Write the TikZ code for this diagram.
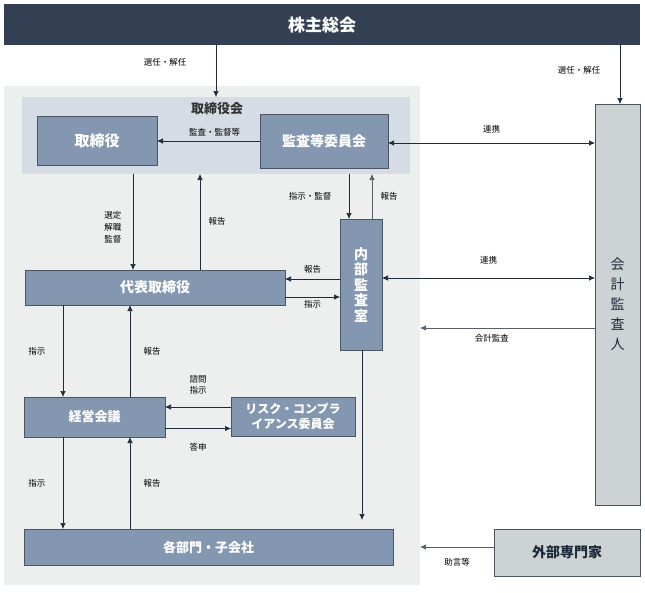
\documentclass[tikz,border=0pt]{standalone}
\usepackage{fontspec}
\setmainfont{Noto Sans CJK JP}
\usepackage{tikz}
\usetikzlibrary{arrows.meta}
\definecolor{navy}{HTML}{333F52}
\definecolor{slate}{HTML}{8497B0}
\definecolor{paleblue}{HTML}{D6DCE5}
\definecolor{areagray}{HTML}{EDEEEE}
\definecolor{boxgray}{HTML}{CDD2D4}
\definecolor{linedark}{HTML}{1E2B3A}
\newcommand{\lbl}{\fontsize{8.5}{11}\selectfont}
\newcommand{\boxfont}[1]{\fontsize{#1}{#1}\selectfont\bfseries}

\begin{document}
\begin{tikzpicture}[x=1pt,y=-1pt]
  \tikzset{area/.style={inner sep=0pt,outer sep=0pt}}
  \tikzset{unit/.style={draw=linedark!80,fill=slate,text=white,inner sep=0pt,outer sep=0pt,line width=0.7pt}}
  \tikzset{outside/.style={draw=linedark!80,fill=boxgray,text=linedark,inner sep=0pt,outer sep=0pt,line width=0.7pt}}
  \tikzset{flow/.style={->,>={Latex[length=6pt,width=5.5pt]},draw=linedark,line width=0.7pt}}
  \tikzset{both/.style={flow,<->}}
  \tikzset{every node/.style={font=\lbl}}
  \useasboundingbox (0,0) rectangle (645,592);
  \node[area,fill=navy,text=white,minimum width=636pt,minimum height=41pt] (agm) at (322,24.5) {\boxfont{17}株主総会};
  \node[area,fill=areagray,minimum width=416pt,minimum height=499pt] (mainArea) at (212,335.5) {};
  \node[area,fill=paleblue,minimum width=388pt,minimum height=77pt] (boardArea) at (216,135.5) {};
  \node[text=black!80] (boardTitle) at (217,109) {\boxfont{13}取締役会};
  \node[unit,minimum width=120pt,minimum height=49pt] (director) at (97,140.5) {\boxfont{15}取締役};
  \node[unit,minimum width=128pt,minimum height=54pt] (committee) at (324,141) {\boxfont{14}監査等委員会};
  \node[outside,minimum width=45pt,minimum height=401pt,align=center,font=\fontsize{14}{20}\selectfont] (auditor) at (617.5,304.5)
    {会\\計\\監\\査\\人};
  \node[unit,minimum width=42pt,minimum height=131pt,align=center,font=\fontsize{14}{15.5}\selectfont\bfseries] (internal) at (361,284.5)
    {内\\部\\監\\査\\室};
  \node[unit,minimum width=260pt,minimum height=35pt] (rep) at (155,287.5) {\boxfont{14}代表取締役};
  \node[unit,minimum width=141pt,minimum height=40pt] (mgmt) at (94.5,417) {\boxfont{13}経営会議};
  \node[unit,minimum width=124pt,minimum height=39pt,align=center,font=\fontsize{12}{15}\selectfont\bfseries] (risk) at (293,416.5)
    {リスク・コンプラ\\イアンス委員会};
  \node[unit,minimum width=369pt,minimum height=36pt] (depts) at (208.5,547) {\boxfont{13}各部門・子会社};
  \node[outside,minimum width=146pt,minimum height=47pt] (experts) at (567,552.5) {\boxfont{14}外部専門家};
  % shareholders
  \draw[flow] (agm.south -| boardArea.north) -- node[pos=0.33,left=26pt]{選任・解任} (boardArea.north);
  \draw[flow] ([xshift=2.5pt]agm.south -| auditor.north) -- node[pos=0.42,left=16pt]{選任・解任} ([xshift=2.5pt]auditor.north);
  % board
  \draw[flow] (committee.west) -- node[pos=0.44,above=1pt]{監査・監督等} (director.east |- committee.west);
  \draw[both] ([yshift=-2pt]committee.east) -- node[above=6pt]{連携} ([yshift=-2pt]committee.east -| auditor.west);
  \draw[flow] ([xshift=-12pt]internal.north |- boardArea.south) -- node[left=14pt]{指示・監督} ([xshift=-12pt]internal.north);
  \draw[flow,draw=linedark!75] ([xshift=11pt]internal.north) -- node[right=5pt]{報告} ([xshift=11pt]internal.north |- boardArea.south);
  \draw[both] ([yshift=6.5pt]internal.east) -- node[above=10pt]{連携} ([yshift=6.5pt]internal.east -| auditor.west);
  \draw[flow,draw=linedark!75] ([yshift=-23.5pt]auditor.west) -- node[pos=0.59,below=3pt]{会計監査} ([yshift=-23.5pt]auditor.west -| mainArea.east);
  \draw[flow] ([yshift=8.5pt]rep.east -| internal.west) -- node[above=2pt]{報告} ([yshift=8.5pt]rep.east);
  \draw[flow] ([yshift=-9.5pt]rep.east) -- node[below=0pt]{指示} ([yshift=-9.5pt]rep.east -| internal.west);
  \draw[flow] ([xshift=-22pt]rep.north |- boardArea.south) -- node[pos=0.56,left=8pt,align=center,font=\fontsize{8.5}{12}\selectfont]{選定\\解職\\監督} ([xshift=-22pt]rep.north);
  \draw[flow] ([xshift=45pt]rep.north) -- node[pos=0.51,right=5pt]{報告} ([xshift=45pt]rep.north |- boardArea.south);
  % executive line
  \draw[flow] ([xshift=-31.5pt]mgmt.north |- rep.south) -- node[left=14pt]{指示} ([xshift=-31.5pt]mgmt.north);
  \draw[flow] ([xshift=35.5pt]mgmt.north) -- node[right=10pt]{報告} ([xshift=35.5pt]mgmt.north |- rep.south);
  \draw[flow] ([yshift=9.5pt]risk.west) -- node[above=9pt,align=center]{諮問\\指示} ([yshift=9.5pt]risk.west -| mgmt.east);
  \draw[flow] ([yshift=-11.5pt]mgmt.east) -- node[below=11pt]{答申} ([yshift=-11.5pt]mgmt.east -| risk.west);
  \draw[flow] ([xshift=-31.5pt]mgmt.south) -- node[left=14pt]{指示} ([xshift=-31.5pt]mgmt.south |- depts.north);
  \draw[flow] ([xshift=35.5pt]mgmt.south |- depts.north) -- node[right=10pt]{報告} ([xshift=35.5pt]mgmt.south);
  \draw[flow] ([xshift=1pt]internal.south) -- ([xshift=1pt,yshift=9pt]internal.south |- depts.north);
  \draw[flow,draw=linedark!75] ([yshift=5.5pt]experts.west) -- node[below=8pt]{助言等} ([yshift=5.5pt]experts.west -| mainArea.east);
\end{tikzpicture}
\end{document}
